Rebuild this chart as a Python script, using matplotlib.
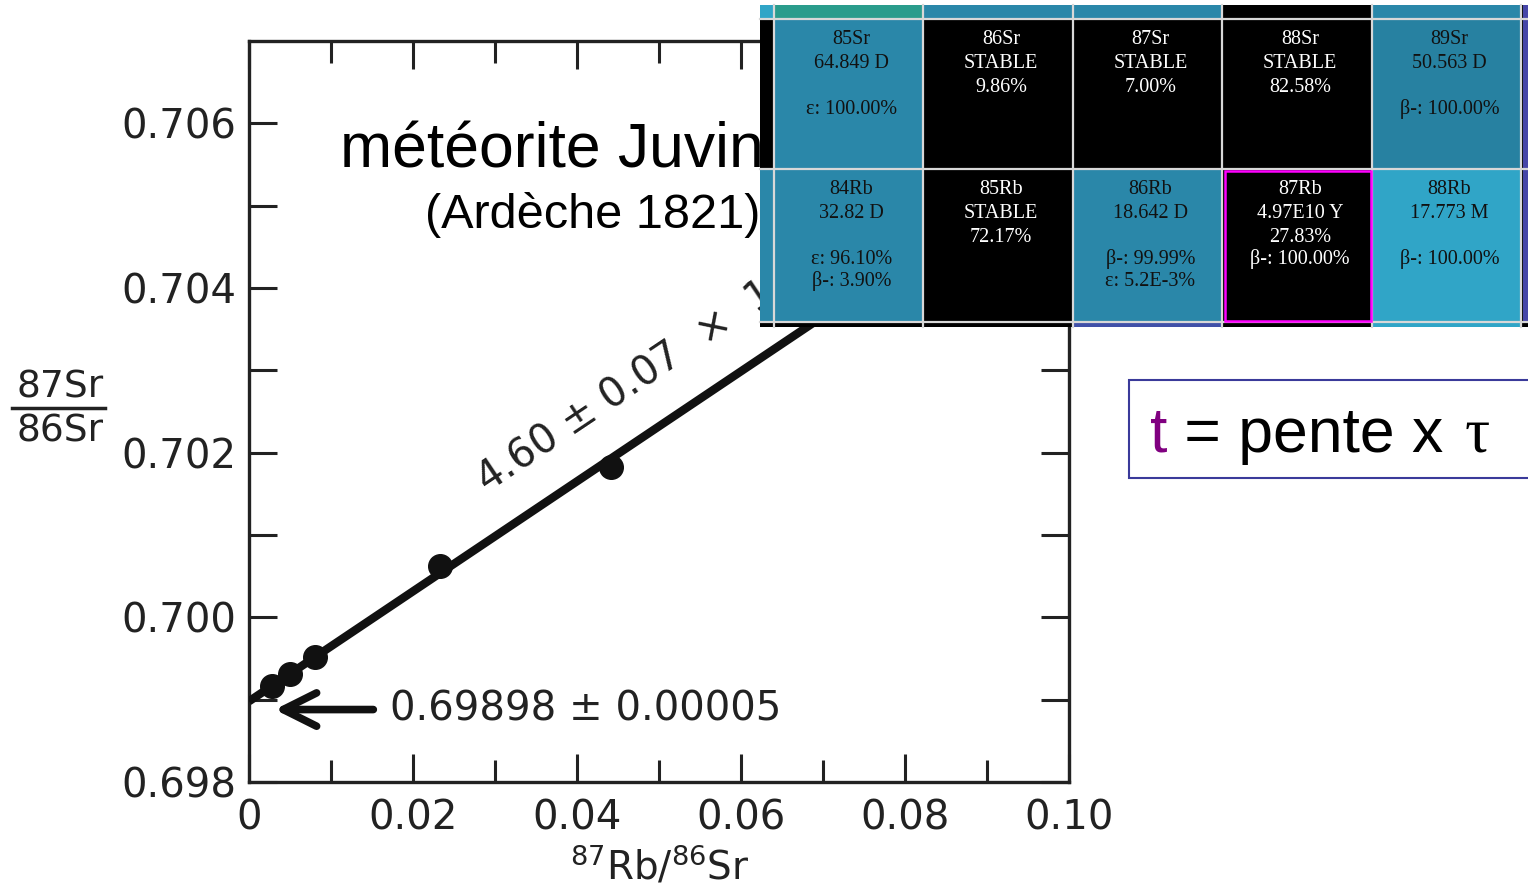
import numpy as np
import matplotlib
matplotlib.use("Agg")
import matplotlib.pyplot as plt
from matplotlib.patches import Rectangle
from matplotlib.lines import Line2D

# ---------------- data ----------------
rb_sr = [0.0028, 0.0050, 0.0080, 0.0233, 0.0441]          # 87Rb/86Sr
sr_sr = [0.69917, 0.69931, 0.69952, 0.70062, 0.70182]     # 87Sr/86Sr
intercept = 0.69898
slope = 0.0668
x_ticks = [0, 0.02, 0.04, 0.06, 0.08, 0.10]
x_tick_labels = ["0", "0.02", "0.04", "0.06", "0.08", "0.10"]
y_ticks = [0.698, 0.700, 0.702, 0.704, 0.706]
y_tick_labels = ["0.698", "0.700", "0.702", "0.704", "0.706"]
intercept_label = "0.69898 ± 0.00005"
slope_label = "4.60 ± 0.07  ×  10$^9$ ans"
title = "météorite Juvinas"
subtitle = "(Ardèche 1821)"
formula_t = "t"
formula_rest = " = pente x "
formula_tau = "τ"

# nuclide chart excerpt: (lines, background, text colour)
top_cells = [
    (["85Sr", "64.849 D", "", "ε: 100.00%"], "#2a87a9", "#111111"),
    (["86Sr", "STABLE", "9.86%"], "#000000", "#ffffff"),
    (["87Sr", "STABLE", "7.00%"], "#000000", "#ffffff"),
    (["88Sr", "STABLE", "82.58%"], "#000000", "#ffffff"),
    (["89Sr", "50.563 D", "", "β-: 100.00%"], "#2781a1", "#111111"),
]
bottom_cells = [
    (["84Rb", "32.82 D", "", "ε: 96.10%", "β-: 3.90%"], "#2a87a9", "#111111"),
    (["85Rb", "STABLE", "72.17%"], "#000000", "#ffffff"),
    (["86Rb", "18.642 D", "", "β-: 99.99%", "ε: 5.2E-3%"], "#2a87a9", "#111111"),
    (["87Rb", "4.97E10 Y", "27.83%", "β-: 100.00%"], "#000000", "#ffffff"),
    (["88Rb", "17.773 M", "", "β-: 100.00%"], "#30a5c7", "#111111"),
]
highlight = (1, 3)  # row, column of 87Rb

# ---------------- figure ----------------
W, H = 1528, 889
fig = plt.figure(figsize=(W / 100, H / 100), dpi=100)
fig.patch.set_facecolor("white")

ax = fig.add_axes([249 / W, 1 - 782 / H, (1069 - 249) / W, (782 - 41) / H], zorder=1)
ax.set_xlim(0, 0.10)
ax.set_ylim(0.698, 0.707)
ax.set_xticks(x_ticks)
ax.set_xticklabels(x_tick_labels)
ax.set_xticks([0.01, 0.03, 0.05, 0.07, 0.09], minor=True)
ax.set_yticks(y_ticks)
ax.set_yticklabels(y_tick_labels)
ax.set_yticks([0.699, 0.701, 0.703, 0.705], minor=True)
ax.tick_params(axis="both", which="both", direction="in", top=True, right=True,
               width=2.2, color="#222222", labelsize=29, labelcolor="#222222")
ax.tick_params(axis="both", which="major", length=20)
ax.tick_params(axis="y", which="minor", length=20)
ax.tick_params(axis="x", which="minor", length=16)
ax.tick_params(axis="x", which="major", pad=12)
ax.tick_params(axis="y", which="major", pad=9)
for lab in ax.get_xticklabels() + ax.get_yticklabels():
    lab.set_family("DejaVu Sans")
for s in ax.spines.values():
    s.set_linewidth(2.4)
    s.set_color("#222222")

xs = np.array([0.0, 0.10])
ax.plot(xs, intercept + slope * xs, color="#111111", lw=6, solid_capstyle="butt", zorder=3)
ax.plot(rb_sr, sr_sr, "o", color="#111111", ms=17, zorder=4)

ax.annotate("", xy=(0.0028, 0.69888), xytext=(0.0155, 0.69888),
            arrowprops=dict(arrowstyle="->,head_length=1.2,head_width=0.6",
                            mutation_scale=20, lw=5.5, color="#111111"))
ax.text(0.0172, 0.69888, intercept_label, fontsize=29, va="center", ha="left",
        color="#222222", family="DejaVu Sans")
ax.text(0.0290, 0.70150, slope_label, fontsize=29, rotation=33.8,
        rotation_mode="anchor", ha="left", va="baseline", color="#222222",
        family="DejaVu Sans")

# ---------------- overlay (pixel coordinates) ----------------
ov = fig.add_axes([0, 0, 1, 1], zorder=5)
ov.set_xlim(0, W)
ov.set_ylim(H, 0)
ov.axis("off")

# y-axis label as fraction
ov.text(60, 388, "87Sr", fontsize=27, ha="center", va="center", color="#222222", family="DejaVu Sans")
ov.add_line(Line2D([12, 105], [408, 408], lw=2.5, color="#222222"))
ov.text(60, 432, "86Sr", fontsize=27, ha="center", va="center", color="#222222", family="DejaVu Sans")
# x-axis label
ov.text(660, 866, r"$^{87}$Rb/$^{86}$Sr", fontsize=28, ha="center", va="center",
        color="#222222", family="DejaVu Sans")

# titles
ov.text(340, 168, title, fontsize=45, ha="left", va="baseline", family="Liberation Sans", zorder=1)
ov.text(425, 228, subtitle, fontsize=35, ha="left", va="baseline", family="Liberation Sans", zorder=1)

# nuclide table
x_edges = [775, 924, 1074, 1223, 1373, 1522]
row_tops = [20, 170]
row_bottom = [168, 321]
ov.add_patch(Rectangle((760, 5), W - 760, 322, facecolor="black", edgecolor="none", zorder=2))
strip_top = ["#2a9c8c", "#2a87a9", "#2a87a9", "#000000", "#2a87a9"]
strip_bot = ["#000000", "#000000", "#4050a8", "#000000", "#30a5c7"]
ov.add_patch(Rectangle((760, 5), 14, 13, facecolor="#30a5c7", edgecolor="none", zorder=2.1))
ov.add_patch(Rectangle((760, 170), 14, 151, facecolor="#2a87a9", edgecolor="none", zorder=2.1))
ov.add_patch(Rectangle((1523, 5), 6, 316, facecolor="#4646a8", edgecolor="none", zorder=2.1))
for j in range(5):
    x0, x1 = x_edges[j], x_edges[j + 1]
    ov.add_patch(Rectangle((x0, 5), x1 - x0, 13, facecolor=strip_top[j], edgecolor="none", zorder=2.1))
    ov.add_patch(Rectangle((x0, 322), x1 - x0, 5, facecolor=strip_bot[j], edgecolor="none", zorder=2.1))
slots = [20, 44, 68, 89, 111]
for i, row in enumerate([top_cells, bottom_cells]):
    for j, (lines, bg, fg) in enumerate(row):
        x0, x1 = x_edges[j], x_edges[j + 1]
        y0, y1 = row_tops[i], row_bottom[i]
        ov.add_patch(Rectangle((x0, y0), x1 - x0, y1 - y0, facecolor=bg, edgecolor="none", zorder=2.2))
        for k, txt in enumerate(lines):
            if txt:
                ov.text((x0 + x1) / 2 + 2, y0 + slots[k], txt, fontsize=14.5, ha="center", va="center",
                        color=fg, family="Liberation Serif", zorder=3)
for x in [774, 923, 1073, 1222, 1372, 1521]:
    ov.add_line(Line2D([x, x], [5, 327], lw=1.6, color="#d8d8d8", zorder=2.5))
for y in [19, 169, 322]:
    ov.add_line(Line2D([760, W], [y, y], lw=1.6, color="#d8d8d8", zorder=2.5))
hi, hj = highlight
ov.add_patch(Rectangle((x_edges[hj] + 2, row_tops[hi] + 1), x_edges[hj + 1] - x_edges[hj] - 4,
                       row_bottom[hi] - row_tops[hi] - 1, facecolor="none",
                       edgecolor="#ff00ff", lw=1.8, zorder=2.6))

# formula box
ov.add_patch(Rectangle((1129, 380), 420, 98, facecolor="white", edgecolor="#3a3a9a", lw=1.5, zorder=2))
t_txt = ov.text(1150, 452, formula_t, fontsize=45, ha="left", va="baseline",
                family="Liberation Sans", color="#800080", zorder=3)
ov.annotate(formula_rest, xy=(1, 0), xycoords=t_txt, ha="left", va="bottom",
            fontsize=45, family="Liberation Sans", color="black", zorder=3)
ov.text(1465, 452, formula_tau, fontsize=45, ha="left", va="baseline",
        family="Liberation Serif", color="black", zorder=3)

fig.savefig("out.png", dpi=100)
